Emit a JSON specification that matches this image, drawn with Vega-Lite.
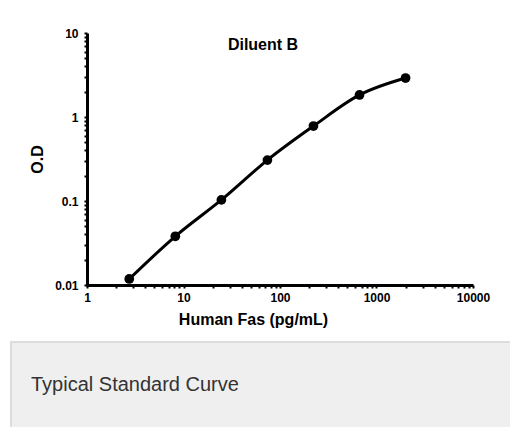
{
  "$schema": "https://vega.github.io/schema/vega-lite/v6.json",
  "padding": {"left": 10, "top": 27, "right": 0, "bottom": 0},
  "background": "white",
  "spacing": 14,
  "config": {"view": {"stroke": null}, "font": "Liberation Sans"},
  "vconcat": [
    {
      "width": 500,
      "height": 252,
      "data": {"values": [
        {"conc": 2.74, "od": 0.0118},
        {"conc": 8.23, "od": 0.038},
        {"conc": 24.69, "od": 0.103},
        {"conc": 74.07, "od": 0.307},
        {"conc": 222.2, "od": 0.78},
        {"conc": 666.7, "od": 1.83},
        {"conc": 2000, "od": 2.91}
      ]},
      "title": {"text": "Diluent B", "offset": -26, "dx": 2, "font": "Liberation Sans", "fontSize": 16, "fontWeight": "bold", "anchor": "middle", "color": "black"},
      "encoding": {
        "x": {
          "field": "conc", "type": "quantitative",
          "scale": {"type": "log", "domain": [1, 10000], "range": [76, 462]},
          "axis": {
            "title": "Human Fas (pg/mL)", "titleFontSize": 16, "titleFontWeight": "bold", "titleColor": "black",
            "titleX": 242, "titlePadding": 8,
            "values": [1,2,3,4,5,6,7,8,9,10,20,30,40,50,60,70,80,90,100,200,300,400,500,600,700,800,900,1000,2000,3000,4000,5000,6000,7000,8000,9000,10000],
            "labelExpr": "indexof([1,10,100,1000,10000], datum.value) >= 0 ? '' + datum.value : ''",
            "labelFlush": false, "labelOverlap": false, "labelFontSize": 12, "labelFontWeight": "bold", "labelColor": "black", "labelPadding": 4,
            "domainColor": "black", "domainWidth": 3, "tickColor": "black", "tickWidth": 2, "tickSize": 3, "grid": false
          }
        },
        "y": {
          "field": "od", "type": "quantitative",
          "scale": {"type": "log", "domain": [0.01, 10]},
          "axis": {
            "title": ["", "O.D"], "titleFontSize": 16, "titleFontWeight": "bold", "titleColor": "black", "titleLineHeight": 18,
            "titlePadding": 0, "minExtent": 42, "maxExtent": 42, "offset": -76,
            "values": [0.01,0.02,0.03,0.04,0.05,0.06,0.07,0.08,0.09,0.1,0.2,0.3,0.4,0.5,0.6,0.7,0.8,0.9,1,2,3,4,5,6,7,8,9,10],
            "labelExpr": "indexof([0.01,0.1,1,10], datum.value) >= 0 ? '' + datum.value : ''",
            "labelFlush": false, "labelOverlap": false, "labelFontSize": 12, "labelFontWeight": "bold", "labelColor": "black", "labelPadding": 6,
            "domainColor": "black", "domainWidth": 3, "tickColor": "black", "tickWidth": 2, "tickSize": 3, "grid": false
          }
        }
      },
      "layer": [
        {"mark": {"type": "line", "interpolate": "monotone", "color": "black", "strokeWidth": 3}},
        {"mark": {"type": "point", "filled": true, "color": "black", "size": 95, "opacity": 1}}
      ]
    },
    {
      "width": 500,
      "height": 86,
      "view": {"fill": "#eeefee", "stroke": "#dddddd", "strokeWidth": 2},
      "data": {"values": [{"label": "Typical Standard Curve", "pos": 0}]},
      "mark": {"type": "text", "align": "left", "baseline": "middle", "dx": 20, "font": "Liberation Sans", "fontSize": 20, "color": "#333333"},
      "encoding": {
        "text": {"field": "label"},
        "x": {"field": "pos", "type": "quantitative", "scale": {"domain": [0, 1]}, "axis": null}
      }
    }
  ]
}
